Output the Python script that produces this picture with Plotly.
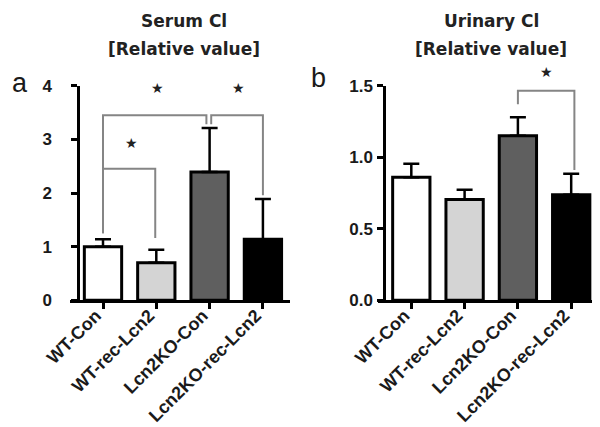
import plotly.graph_objects as go

categories = ["WT-Con", "WT-rec-Lcn2", "Lcn2KO-Con", "Lcn2KO-rec-Lcn2"]
bar_colors = ["#ffffff", "#d4d4d4", "#5f5f5f", "#000000"]

serum_values = [1.00, 0.70, 2.39, 1.14]
serum_err_top = [1.14, 0.94, 3.21, 1.89]
serum_ticks = [0, 1, 2, 3, 4]
serum_ticklabels = ["0", "1", "2", "3", "4"]

urinary_values = [0.86, 0.705, 1.15, 0.738]
urinary_err_top = [0.955, 0.773, 1.28, 0.885]
urinary_ticks = [0, 0.5, 1.0, 1.5]
urinary_ticklabels = ["0.0", "0.5", "1.0", "1.5"]

# brackets: (x_left, y_left_bottom, x_right, y_right_bottom, y_top)
serum_brackets = [
    (0.0, 1.25, 1.94, 3.28, 3.45),
    (0.0, 1.25, 0.98, 1.16, 2.45),
    (2.03, 3.28, 3.0, 1.96, 3.45),
]
serum_stars = [(1.03, 3.83), (2.55, 3.83), (0.54, 2.80)]
urinary_brackets = [(2.0, 1.37, 3.06, 0.91, 1.465)]
urinary_stars = [(2.54, 1.55)]

idx = list(range(len(categories)))
W, H = 600, 427
ydom = [(H - 292.3) / H, (H - 77.7) / H]

fig = go.Figure()

def add_panel(values, err_top, xa, ya):
    fig.add_trace(go.Bar(
        x=idx, y=values, width=0.7,
        marker=dict(color=bar_colors, line=dict(color="black", width=3)),
        error_y=dict(type="data", symmetric=False,
                     array=[t - v for t, v in zip(err_top, values)],
                     arrayminus=[0] * len(values),
                     color="black", thickness=2.5, width=8),
        xaxis=xa, yaxis=ya, showlegend=False,
    ))

add_panel(serum_values, serum_err_top, "x", "y")
add_panel(urinary_values, urinary_err_top, "x2", "y2")

shapes = []
annotations = []

def add_brackets(brackets, stars, xr, yr, ymax):
    for (x0, y0, x1, y1, yt) in brackets:
        shapes.append(dict(
            type="path", xref=xr, yref=yr,
            path=f"M {x0} {y0} L {x0} {yt} L {x1} {yt} L {x1} {y1}",
            line=dict(color="#858585", width=2),
        ))
    for (sx, sy) in stars:
        py = ydom[0] + (sy / ymax) * (ydom[1] - ydom[0])
        annotations.append(dict(
            x=sx, y=py, xref=xr, yref="paper", text="★", showarrow=False,
            font=dict(family="DejaVu Sans", size=14, color="#222222"),
            xanchor="center", yanchor="middle", yshift=7,
        ))

add_brackets(serum_brackets, serum_stars, "x", "y", 4)
add_brackets(urinary_brackets, urinary_stars, "x2", "y2", 1.5)

title_font = dict(family="DejaVu Sans", size=17, color="#222222")
for cx, line1 in [(176, "<b>Serum Cl</b>"), (483, "<b>Urinary Cl</b>")]:
    annotations.append(dict(x=cx / W, y=1 - 13 / H, xref="paper", yref="paper",
                            text=line1, showarrow=False, font=title_font,
                            xanchor="center", yanchor="middle"))
    annotations.append(dict(x=cx / W, y=1 - 41 / H, xref="paper", yref="paper",
                            text="<b>[Relative value]</b>", showarrow=False, font=title_font,
                            xanchor="center", yanchor="middle"))

for lx, ly, letter in [(12, 75, "a"), (310, 70, "b")]:
    annotations.append(dict(x=lx / W, y=1 - ly / H, xref="paper", yref="paper",
                            text=letter, showarrow=False,
                            font=dict(family="Liberation Sans", size=27, color="#1a1a1a"),
                            xanchor="center", yanchor="middle"))

tickfont = dict(family="Liberation Sans", size=17, color="#1a1a1a", weight="bold")
xtickfont = dict(family="Liberation Sans", size=18, color="#1a1a1a", weight="bold")

common_x = dict(tickmode="array", tickvals=idx, ticktext=categories, tickangle=-45,
                showline=True, linecolor="black", linewidth=2.5, ticks="outside",
                ticklen=6, tickwidth=2.5, tickcolor="black", showgrid=False,
                zeroline=False, tickfont=xtickfont, automargin=False,
                ticklabelstandoff=-11, ticklabelshift=-7)
common_y = dict(showline=True, linecolor="black", linewidth=2.5, ticks="outside",
                ticklen=6, tickwidth=2.5, tickcolor="black", showgrid=False,
                zeroline=False, tickfont=tickfont, automargin=False, tickmode="array")

fig.update_layout(
    width=W, height=H,
    margin=dict(l=0, r=0, t=0, b=0),
    paper_bgcolor="white", plot_bgcolor="white",
    showlegend=False, bargap=0.3,
    xaxis=dict(domain=[62 / W, 282 / W], range=[-0.619, 3.508], anchor="y", **common_x),
    yaxis=dict(domain=ydom, range=[0, 4], anchor="free", position=70 / W,
               tickvals=serum_ticks, ticktext=serum_ticklabels, ticklabelstandoff=16, **common_y),
    xaxis2=dict(domain=[370 / W, 590 / W], range=[-0.625, 3.503], anchor="y2", **common_x),
    yaxis2=dict(domain=ydom, range=[0, 1.5], anchor="free", position=376 / W,
                tickvals=urinary_ticks, ticktext=urinary_ticklabels, ticklabelstandoff=1, **common_y),
    shapes=shapes,
    annotations=annotations,
)

fig.write_html("out.html")
